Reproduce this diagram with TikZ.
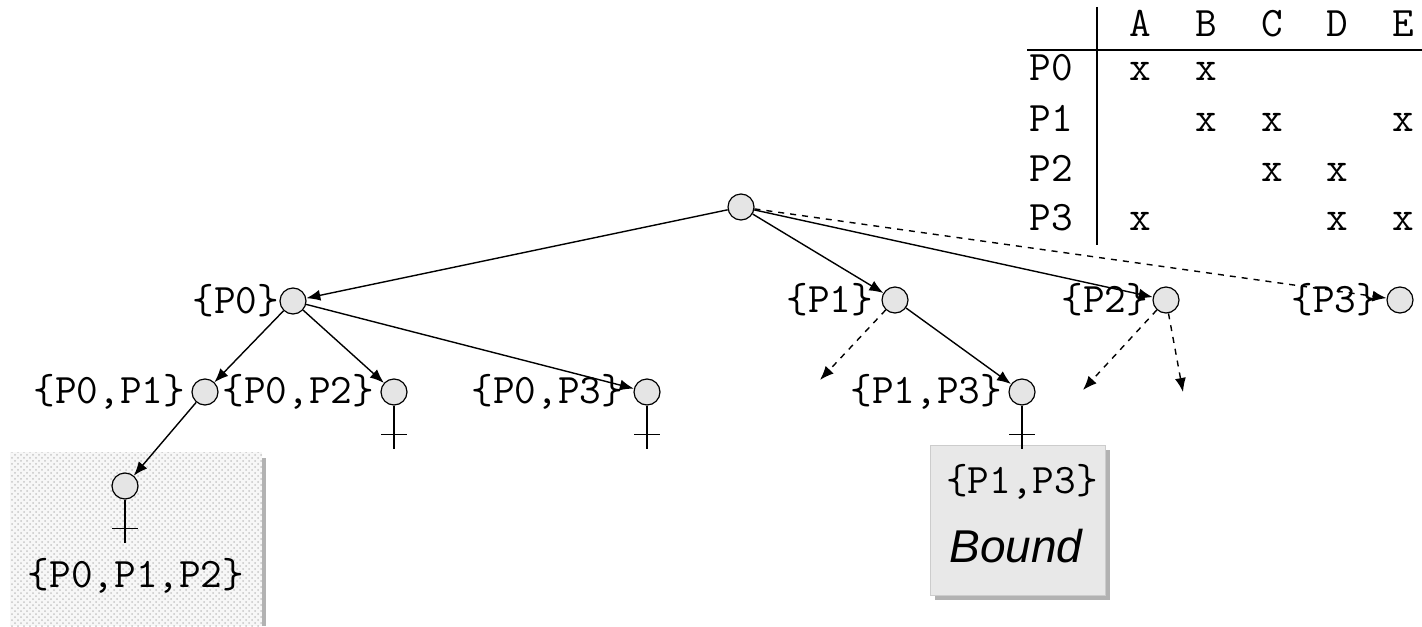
\documentclass[tikz,border=0pt]{standalone}
\usepackage{fontspec}
\newfontfamily\arial{Liberation Sans}
\usetikzlibrary{positioning,arrows.meta,patterns}

\begin{document}
\begin{tikzpicture}[x=0.5pt, y=-0.5pt, >={Latex[length=7pt,width=5.5pt]},
  state/.style={circle, draw, fill=gray!20, minimum size=13pt, inner sep=0pt, line width=0.6pt},
  set/.style={font=\ttfamily\fontsize{21}{23}\selectfont, inner sep=0pt},
  edge/.style={->, line width=0.7pt},
  probe/.style={->, dashed, line width=0.7pt}]
  \useasboundingbox (0,0) rectangle (1422,626);
  % pruned subtree
  \fill[gray!6] (10,452) rectangle (262,626);
  \fill[pattern=crosshatch dots, pattern color=gray!45] (10,452) rectangle (262,626);
  \fill[gray!60] (262,458) rectangle (266,626);
  % bound box
  \fill[gray!60] (935,450) rectangle (1110,600);
  \filldraw[fill=gray!18, draw=gray!40] (930,445) rectangle (1105,595);
  \node[set] (bset) at (1022,482) {\{P1,P3\}};
  \node[font=\arial\itshape\fontsize{23}{25}\selectfont] (bound) at (1016,546) {Bound};
  % table
  \draw[line width=0.7pt] (1097,7) -- (1097,245);
  \draw[line width=0.7pt] (1027,50) -- (1422,50);
  \foreach \c/\x in {A/1140,B/1206,C/1272,D/1337,E/1403}
    \node[set, anchor=base] (h\c) at (\x,37) {\c};
  \foreach \r/\y in {0/81,1/131,2/181,3/230}
    \node[set, anchor=base] (r\r) at (1051,\y) {P\r};
  \foreach \x/\y in {1140/81,1206/81,1206/131,1272/131,1403/131,
                     1272/181,1337/181,1140/230,1337/230,1403/230}
    \node[set, anchor=base] at (\x,\y) {x};
  % tree
  \node[state] (root) at (741,207) {};
  \node[state, label={[set, label distance=0pt]left:{\{P0\}}}] (p0) at (293,301) {};
  \node[state, label={[set, label distance=4pt]left:{\{P1\}}}] (p1) at (895,300) {};
  \node[state, label={[set, label distance=2pt]left:{\{P2\}}}] (p2) at (1166,300) {};
  \node[state, label={[set, label distance=4pt]left:{\{P3\}}}] (p3) at (1400,300) {};
  \node[state, label={[set, label distance=3pt]left:{\{P0,P1\}}}] (p01) at (205,392) {};
  \node[state, label={[set, label distance=3pt]left:{\{P0,P2\}}}] (p02) at (394,392) {};
  \node[state, label={[set, label distance=5pt]left:{\{P0,P3\}}}] (p03) at (647,392) {};
  \node[state, label={[set, label distance=3pt]left:{\{P1,P3\}}}] (p13) at (1022,392) {};
  \node[state] (p012) at (125,486) {};
  \node[set] (t012) at (136,576) {\{P0,P1,P2\}};
  \draw[edge] (root) -- (p0);
  \draw[edge] (root) -- (p1);
  \draw[edge] (root) -- (p2);
  \draw[probe] (root) -- (p3);
  \draw[edge] (p0) -- (p01);
  \draw[edge] (p0) -- (p02);
  \draw[edge] (p0) -- (p03);
  \draw[edge] (p01) -- (p012);
  \draw[edge] (p1) -- (p13);
  % unexplored branches
  \coordinate (s1) at (820,380);
  \coordinate (s2) at (1083,390);
  \coordinate (s3) at (1183,392);
  \draw[probe] (p1) -- (s1);
  \draw[probe] (p2) -- (s2);
  \draw[probe] (p2) -- (s3);
  % leaves
  \foreach \n in {p02,p03,p13,p012} {
    \draw[line width=0.7pt] (\n.south) -- ++(0,43);
    \draw[line width=0.7pt] ([shift={(-13,29)}]\n.south) -- ++(26,0);
  }
\end{tikzpicture}
\end{document}
